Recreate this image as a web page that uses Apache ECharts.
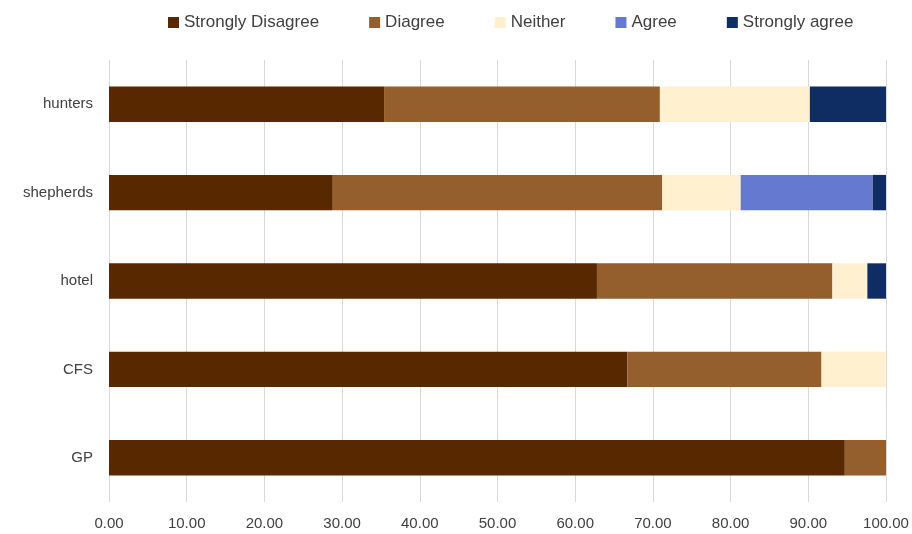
<!DOCTYPE html>
<html><head><meta charset="utf-8">
<script src="https://cdn.jsdelivr.net/npm/echarts@6/dist/echarts.min.js"></script>
<style>html,body{margin:0;padding:0;background:#fff}#c{width:912px;height:534px}</style>
</head><body><div id="c"></div>
<script>
const categories = ['GP', 'CFS', 'hotel', 'shepherds', 'hunters'];
const seriesNames = ['Strongly Disagree', 'Diagree', 'Neither', 'Agree', 'Strongly agree'];
const stronglyDisagree = [94.7, 66.7, 62.8, 28.8, 35.4];
const disagree = [5.3, 25.0, 30.3, 42.4, 35.5];
const neither = [0, 8.3, 4.5, 10.1, 19.3];
const agree = [0, 0, 0, 17.0, 0];
const stronglyAgree = [0, 0, 2.4, 1.7, 9.8];
const colors = ['#582800', '#955f2d', '#fff0cf', '#6479cf', '#0f2d62'];
const values = [stronglyDisagree, disagree, neither, agree, stronglyAgree];

const chart = echarts.init(document.getElementById('c'));
chart.setOption({
  animation: false,
  textStyle: { fontFamily: 'Liberation Sans, Arial, sans-serif' },
  legend: {
    top: 9, left: 163, itemGap: 50, itemWidth: 11, itemHeight: 11, icon: 'rect',
    textStyle: { fontSize: 17, color: '#404040' },
    data: seriesNames
  },
  grid: { left: 109, right: 26, top: 60, bottom: 32 },
  xAxis: {
    type: 'value', min: 0, max: 100, interval: 10,
    axisLabel: { formatter: v => v.toFixed(2), fontSize: 15, color: '#404040', margin: 14 },
    axisLine: { show: false }, axisTick: { show: false },
    splitLine: { lineStyle: { color: '#d9d9d9', width: 1 } }
  },
  yAxis: {
    type: 'category', data: categories,
    axisLabel: { fontSize: 15, color: '#404040', margin: 16 },
    axisLine: { show: false }, axisTick: { show: false }
  },
  series: seriesNames.map((n, i) => ({
    name: n, type: 'bar', stack: 'total', barWidth: '40%',
    itemStyle: { color: colors[i] },
    data: values[i]
  }))
});
</script></body></html>
